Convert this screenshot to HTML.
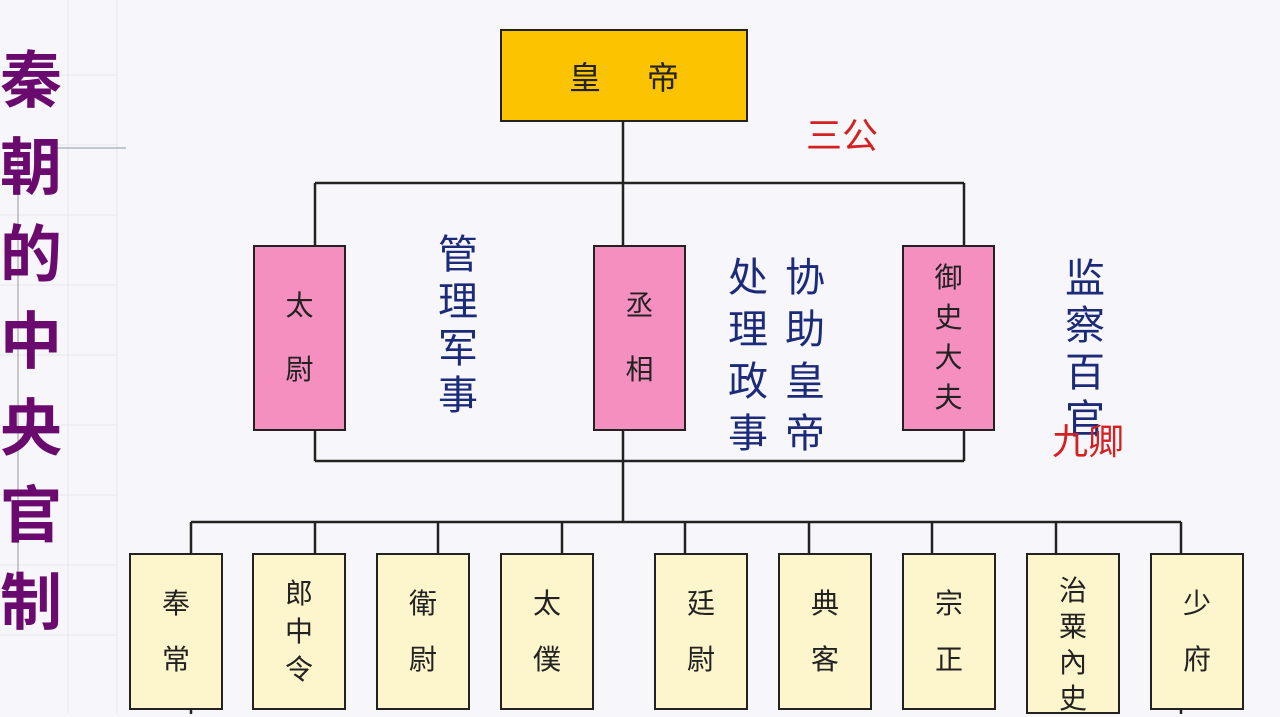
<!DOCTYPE html>
<html><head><meta charset="utf-8"><style>
html,body{margin:0;padding:0}
body{width:1280px;height:714px;position:relative;overflow:hidden;background:#f7f7fb;font-family:"Liberation Sans","Noto Sans CJK SC",sans-serif}
.t{position:absolute;text-align:center;line-height:1}
.box{position:absolute;border:2px solid #222;box-sizing:border-box;display:flex;flex-direction:column;align-items:center;justify-content:center;color:#222}
.y{background:#fdf5cc}
.p{background:#f48fc0}
</style></head><body>
<svg width="1280" height="714" style="position:absolute;left:0;top:0">
<g stroke="#e6e6ee" stroke-width="1">
<line x1="68" y1="0" x2="68" y2="714"/><line x1="117" y1="0" x2="117" y2="714"/>
<line x1="0" y1="75" x2="117" y2="75"/><line x1="0" y1="145" x2="117" y2="145"/><line x1="0" y1="215" x2="117" y2="215"/><line x1="0" y1="285" x2="117" y2="285"/><line x1="0" y1="355" x2="117" y2="355"/><line x1="0" y1="425" x2="117" y2="425"/><line x1="0" y1="495" x2="117" y2="495"/><line x1="0" y1="565" x2="117" y2="565"/><line x1="0" y1="635" x2="117" y2="635"/>
</g>
<line x1="52" y1="148" x2="126" y2="148" stroke="#8a9aa8" stroke-width="1"/>
<line x1="18" y1="140" x2="18" y2="580" stroke="#999" stroke-width="1"/>
<g stroke="#222" stroke-width="2.5" fill="none">
<line x1="623" y1="121" x2="623" y2="522"/>
<line x1="315" y1="183" x2="964" y2="183"/>
<line x1="315" y1="183" x2="315" y2="245"/>
<line x1="964" y1="183" x2="964" y2="245"/>
<line x1="315" y1="430" x2="315" y2="461"/>
<line x1="964" y1="430" x2="964" y2="461"/>
<line x1="315" y1="461" x2="964" y2="461"/>
<line x1="191" y1="522" x2="1181" y2="522"/>
<line x1="191" y1="522" x2="191" y2="553"/>
<line x1="315" y1="522" x2="315" y2="553"/>
<line x1="438" y1="522" x2="438" y2="553"/>
<line x1="562" y1="522" x2="562" y2="553"/>
<line x1="685" y1="522" x2="685" y2="553"/>
<line x1="809" y1="522" x2="809" y2="553"/>
<line x1="932" y1="522" x2="932" y2="553"/>
<line x1="1056" y1="522" x2="1056" y2="553"/>
<line x1="1181" y1="522" x2="1181" y2="553"/>
<line x1="191" y1="709" x2="191" y2="714"/>
<line x1="1181" y1="709" x2="1181" y2="714"/>
</g>
</svg>
<div class="t" style="left:0;top:38px;width:62px;font-size:62px;font-weight:bold;color:#6a0a6e;line-height:87px">秦<br>朝<br>的<br>中<br>央<br>官<br>制</div>
<div class="box" style="left:500px;top:29px;width:248px;height:93px;background:#fcc400;font-size:32px;flex-direction:row"><span>皇</span><span style="margin-left:46px">帝</span></div>
<div class="t" style="left:806px;top:118px;font-size:36px;color:#d42020">三公</div>
<div class="box p" style="left:253px;top:245px;width:93px;height:186px;font-size:28px;line-height:64px">太<br>尉</div>
<div class="box p" style="left:593px;top:245px;width:93px;height:186px;font-size:28px;line-height:64px">丞<br>相</div>
<div class="box p" style="left:902px;top:245px;width:93px;height:186px;font-size:28px;line-height:40px">御<br>史<br>大<br>夫</div>
<div class="t" style="left:436px;top:232px;width:44px;font-size:40px;color:#1c2a7a;line-height:47px">管<br>理<br>军<br>事</div>
<div class="t" style="left:726px;top:252px;width:44px;font-size:40px;color:#1c2a7a;line-height:52px">处<br>理<br>政<br>事</div>
<div class="t" style="left:783px;top:252px;width:44px;font-size:40px;color:#1c2a7a;line-height:52px">协<br>助<br>皇<br>帝</div>
<div class="t" style="left:1062px;top:256px;width:46px;font-size:40px;color:#1c2a7a;line-height:47px">监<br>察<br>百<br>官</div>
<div class="t" style="left:1052px;top:424px;font-size:36px;color:#d42020">九卿</div>
<div class="box y" style="left:129px;top:553px;width:94px;height:157px;font-size:28px;line-height:56px">奉<br>常</div>
<div class="box y" style="left:252px;top:553px;width:94px;height:157px;font-size:28px;line-height:38px">郎<br>中<br>令</div>
<div class="box y" style="left:376px;top:553px;width:94px;height:157px;font-size:28px;line-height:56px">衛<br>尉</div>
<div class="box y" style="left:500px;top:553px;width:94px;height:157px;font-size:28px;line-height:56px">太<br>僕</div>
<div class="box y" style="left:654px;top:553px;width:94px;height:157px;font-size:28px;line-height:56px">廷<br>尉</div>
<div class="box y" style="left:778px;top:553px;width:94px;height:157px;font-size:28px;line-height:56px">典<br>客</div>
<div class="box y" style="left:902px;top:553px;width:94px;height:157px;font-size:28px;line-height:56px">宗<br>正</div>
<div class="box y" style="left:1026px;top:553px;width:94px;height:161px;font-size:28px;line-height:36px;justify-content:flex-start;padding-top:18px">治<br>粟<br>內<br>史</div>
<div class="box y" style="left:1150px;top:553px;width:94px;height:157px;font-size:28px;line-height:56px">少<br>府</div>
</body></html>
